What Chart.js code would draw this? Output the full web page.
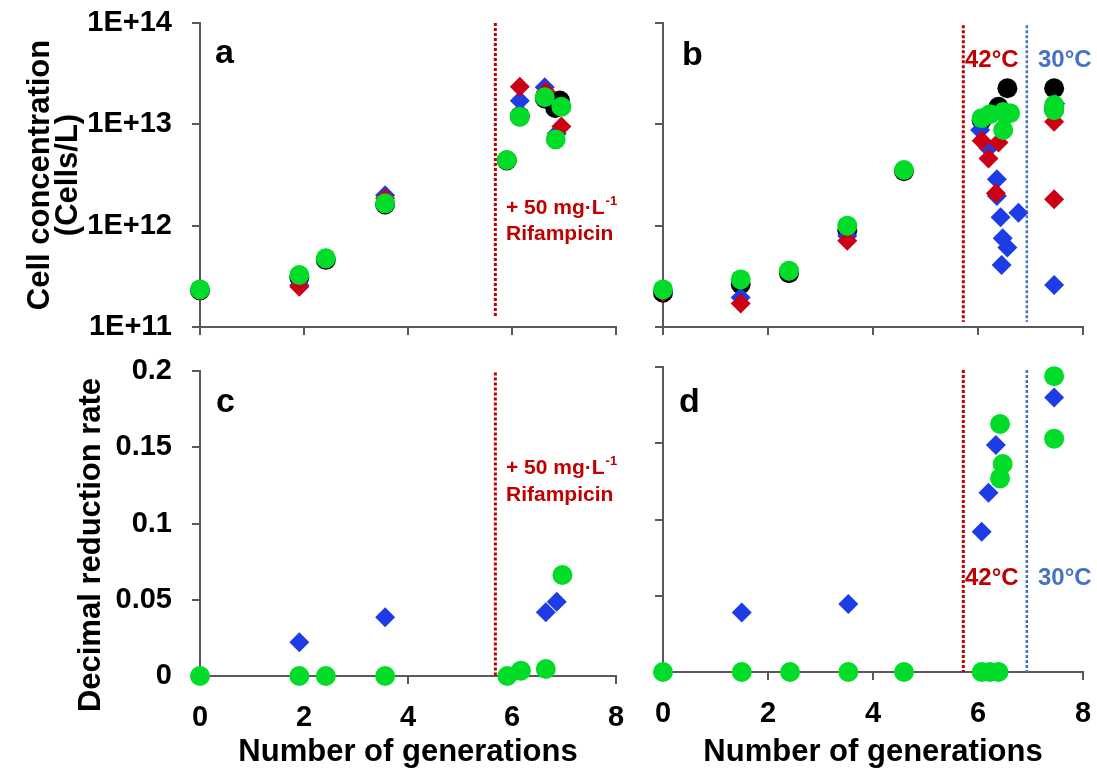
<!DOCTYPE html>
<html><head><meta charset="utf-8">
<script src="https://cdn.jsdelivr.net/npm/chart.js@4.4.1/dist/chart.umd.min.js"></script>
<style>
html,body{margin:0;padding:0;background:#fff;width:1097px;height:771px;overflow:hidden;}
canvas{position:absolute;}
</style></head><body>
<canvas id="pa" width="640" height="360" style="left:0px;top:0px"></canvas>
<canvas id="pb" width="457" height="360" style="left:640px;top:0px"></canvas>
<canvas id="pc" width="640" height="431" style="left:0px;top:340px"></canvas>
<canvas id="pd" width="457" height="431" style="left:640px;top:340px"></canvas>
<script>
// ---------- tick definitions ----------
const genTicks = [0, 2, 4, 6, 8];
const genTickLabels = ['0', '2', '4', '6', '8'];
const concTicks = [1e11, 1e12, 1e13, 1e14];
const concTickLabels = ['1E+11', '1E+12', '1E+13', '1E+14'];
const rateTicks = [0, 0.05, 0.1, 0.15, 0.2];
const rateTickLabels = ['0', '0.05', '0.1', '0.15', '0.2'];

// ---------- event markers (generations) ----------
const rifampicinGen = 5.68;
const heatStartGen = 5.72;
const coolStartGen = 6.93;

// ---------- panel a : cell concentration, rifampicin ----------
const genA_black  = [0, 1.91, 2.42, 3.56, 5.90, 6.15, 6.63, 6.83, 6.92];
const cellA_black = [2.3e11, 3.1e11, 4.6e11, 1.62e12, 4.4e12, 1.2e13, 1.8e13, 1.45e13, 1.72e13];
const genA_blue   = [0, 1.91, 2.42, 3.56, 5.90, 6.15, 6.63, 6.86];
const cellA_blue  = [2.3e11, 2.6e11, 4.7e11, 2.0e12, 4.4e12, 1.71e13, 2.32e13, 8.1e12];
const genA_red    = [0, 1.91, 2.42, 3.56, 5.90, 6.15, 6.65, 6.95];
const cellA_red   = [2.3e11, 2.5e11, 4.7e11, 1.86e12, 4.4e12, 2.35e13, 2.1e13, 9.5e12];
const genA_green  = [0, 1.91, 2.42, 3.56, 5.90, 6.15, 6.63, 6.84, 6.95];
const cellA_green = [2.35e11, 3.26e11, 4.76e11, 1.66e12, 4.45e12, 1.19e13, 1.85e13, 7.1e12, 1.49e13];

// ---------- panel b : cell concentration, 42°C / 30°C ----------
const genB_black  = [0, 1.48, 2.40, 3.51, 4.59, 6.07, 6.39, 6.56, 7.45, 7.45];
const cellB_black = [2.18e11, 2.65e11, 3.39e11, 9.0e11, 3.45e12, 1.1e13, 1.49e13, 2.27e13, 2.27e13, 1.4e13];
const genB_blue   = [0, 1.48, 2.40, 3.51, 4.59, 6.04, 6.20, 6.36, 6.36, 6.43, 6.47, 6.56, 6.45, 6.77, 7.45, 7.47];
const cellB_blue  = [2.3e11, 1.96e11, 3.5e11, 7.9e11, 3.5e12, 8.8e12, 5.8e12, 2.87e12, 1.96e12, 1.21e12, 7.5e11, 6.1e11, 4.1e11, 1.34e12, 2.6e11, 1.6e13];
const genB_red    = [0, 1.48, 2.40, 3.51, 4.59, 6.07, 6.39, 6.20, 6.34, 7.45, 7.45];
const cellB_red   = [2.2e11, 1.71e11, 3.5e11, 7.1e11, 3.5e12, 6.9e12, 6.6e12, 4.6e12, 2.09e12, 1.06e13, 1.82e12];
const genB_green  = [0, 1.48, 2.40, 3.51, 4.59, 6.07, 6.23, 6.48, 6.61, 6.48, 7.45, 7.45];
const cellB_green = [2.35e11, 2.95e11, 3.6e11, 1.0e12, 3.54e12, 1.15e13, 1.26e13, 1.32e13, 1.29e13, 8.8e12, 1.55e13, 1.38e13];

// ---------- panel c : decimal reduction rate, rifampicin ----------
const genC_blue   = [1.91, 3.56, 6.65, 6.86];
const rateC_blue  = [0.0221, 0.0385, 0.0418, 0.0487];
const genC_green  = [0, 1.91, 2.42, 3.56, 5.91, 6.17, 6.65, 6.97];
const rateC_green = [0, 0, 0, 0, 0, 0.0035, 0.0046, 0.0662];

// ---------- panel d : decimal reduction rate, 42°C / 30°C ----------
const genD_blue   = [1.50, 3.53, 6.07, 6.20, 6.34, 7.45];
const rateD_blue  = [0.039, 0.0446, 0.092, 0.1176, 0.1489, 0.180];
const genD_green  = [0, 1.50, 2.42, 3.53, 4.59, 6.07, 6.23, 6.39, 6.42, 6.47, 6.42, 7.45, 7.45];
const rateD_green = [0, 0, 0, 0, 0, 0, 0, 0, 0.1626, 0.1364, 0.127, 0.194, 0.153];

// ---------- styling ----------
const FONT = '"Liberation Sans", Arial, sans-serif';
const AXIS = '#595959';
const C_BLACK = '#000000', C_BLUE = '#1E3CE6', C_RED = '#CC0014', C_GREEN = '#00DC28';
const C_LINE_RED = '#C00000', C_LINE_BLUE = '#4472C4';

function pts(xs, ys) { return xs.map((x, i) => ({x: x, y: ys[i]})); }

function series(xs, ys, color, style, order) {
  return { data: pts(xs, ys), backgroundColor: color, borderColor: color, borderWidth: 0,
           pointStyle: style, pointRadius: 10, pointHoverRadius: 10, showLine: false,
           order: order, clip: false };
}
function vline(x, y0, y1, color, width) {
  return { data: [{x: x, y: y0}, {x: x, y: y1}], showLine: true, borderColor: color,
           borderWidth: width, borderDash: [3, 2], pointRadius: 0, order: 10, clip: false,
           backgroundColor: color };
}

function textPlugin(items) {
  return {
    id: 'panelText',
    afterDatasetsDraw(chart) {
      const {ctx, chartArea} = chart;
      items.forEach(it => {
        ctx.save();
        ctx.font = it.font;
        ctx.fillStyle = it.color || '#000';
        ctx.textAlign = it.align || 'left';
        ctx.textBaseline = it.baseline || 'alphabetic';
        ctx.translate(chartArea.left + it.dx, chartArea.top + it.dy);
        if (it.rotate) ctx.rotate(it.rotate);
        ctx.fillText(it.text, 0, 0);
        if (it.sup) {
          const w = ctx.measureText(it.text).width;
          ctx.font = it.supFont;
          ctx.fillText(it.sup, w + 1, -9);
        }
        ctx.restore();
      });
    }
  };
}

function makeChart(id, cfg) {
  const gridOpts = { drawOnChartArea: false, drawTicks: true, tickLength: 8, tickWidth: 2, tickColor: AXIS, color: AXIS, lineWidth: 2 };
  const tickFont = { family: FONT, size: 29, weight: 'bold' };
  const isLog = cfg.yType === 'logarithmic';
  const yTickVals = isLog ? concTicks : rateTicks;
  const yTickLabs = isLog ? concTickLabels : rateTickLabels;
  return new Chart(document.getElementById(id), {
    type: 'scatter',
    data: { datasets: cfg.datasets },
    plugins: [textPlugin(cfg.texts)],
    options: {
      responsive: false, animation: false, events: [],
      layout: { padding: { top: cfg.padTop, right: cfg.padRight, left: 0, bottom: 0 } },
      plugins: { legend: { display: false }, tooltip: { enabled: false } },
      scales: {
        x: {
          type: 'linear', min: 0, max: 8,
          afterBuildTicks: s => { s.ticks = genTicks.map(v => ({value: v})); },
          afterFit: s => { s.height = cfg.xHeight; s.paddingLeft = 0; s.paddingRight = 0; },
          ticks: { display: cfg.showXLabels, font: tickFont, color: '#000', padding: 17, maxRotation: 0, autoSkip: false,
                   callback: v => genTickLabels[genTicks.indexOf(v)] },
          grid: gridOpts,
          border: { display: true, color: AXIS, width: 2 },
          title: cfg.xTitle ? { display: true, text: cfg.xTitle, color: '#000',
                   font: { family: FONT, size: 31, weight: 'bold' }, padding: { top: 0, bottom: 0 } } : { display: false }
        },
        y: {
          type: cfg.yType, min: cfg.yMin, max: cfg.yMax,
          afterBuildTicks: s => { s.ticks = yTickVals.map(v => ({value: v})); },
          afterFit: s => { s.width = cfg.yWidth; s.paddingTop = 0; s.paddingBottom = 0; },
          ticks: { display: cfg.showYLabels, font: tickFont, color: '#000', padding: 20, autoSkip: false,
                   callback: v => { const i = yTickVals.findIndex(t => Math.abs(t - v) < 1e-9 * Math.max(1, t)); return i >= 0 ? yTickLabs[i] : ''; } },
          grid: gridOpts,
          border: { display: true, color: AXIS, width: 2 },
          title: cfg.yTitle ? { display: true, text: cfg.yTitle, color: '#000',
                   font: { family: FONT, size: 31, weight: 'bold', lineHeight: '28px' }, padding: { top: 26, bottom: 0 } } : { display: false }
        }
      }
    }
  });
}

const letterFont = 'bold 34px ' + FONT;
const rifFont = 'bold 21px ' + FONT;
const rifSup = 'bold 13px ' + FONT;
const tempFont = 'bold 24px ' + FONT;

// panel a
makeChart('pa', {
  yType: 'logarithmic', yMin: 1e11, yMax: 1e14, showYLabels: true, showXLabels: false,
  yTitle: ['Cell concentration', '(Cells/L)'], xTitle: null,
  yWidth: 200, xHeight: 33, padTop: 23, padRight: 24,
  datasets: [
    series(genA_green, cellA_green, C_GREEN, 'circle', 0),
    series(genA_red, cellA_red, C_RED, 'rectRot', 1),
    series(genA_blue, cellA_blue, C_BLUE, 'rectRot', 2),
    series(genA_black, cellA_black, C_BLACK, 'circle', 3),
    vline(rifampicinGen, 1.0e14, 1.23e11, C_LINE_RED, 3)
  ],
  texts: [
    {text: 'a', dx: 15, dy: 40, font: letterFont},
    {text: '+ 50 mg\u00B7L', sup: '-1', dx: 306, dy: 191, font: rifFont, supFont: rifSup, color: C_LINE_RED},
    {text: 'Rifampicin', dx: 306, dy: 217, font: rifFont, color: C_LINE_RED}
  ]
});

// panel b
makeChart('pb', {
  yType: 'logarithmic', yMin: 1e11, yMax: 1e14, showYLabels: false, showXLabels: false,
  yTitle: null, xTitle: null,
  yWidth: 23, xHeight: 33, padTop: 23, padRight: 14,
  datasets: [
    series(genB_green, cellB_green, C_GREEN, 'circle', 0),
    series(genB_red, cellB_red, C_RED, 'rectRot', 1),
    series(genB_blue, cellB_blue, C_BLUE, 'rectRot', 2),
    series(genB_black, cellB_black, C_BLACK, 'circle', 3),
    vline(heatStartGen, 9.5e13, 1.12e11, C_LINE_RED, 3),
    vline(coolStartGen, 9.5e13, 1.12e11, C_LINE_BLUE, 2.5)
  ],
  texts: [
    {text: 'b', dx: 19, dy: 42, font: letterFont},
    {text: '42°C', dx: 302, dy: 44, font: tempFont, color: C_LINE_RED},
    {text: '30°C', dx: 375, dy: 44, font: tempFont, color: C_LINE_BLUE}
  ]
});

// panel c
makeChart('pc', {
  yType: 'linear', yMin: 0, yMax: 0.2, showYLabels: true, showXLabels: true,
  yTitle: null, xTitle: 'Number of generations',
  yWidth: 200, xHeight: 95, padTop: 31, padRight: 24,
  datasets: [
    series(genC_green, rateC_green, C_GREEN, 'circle', 0),
    series(genC_blue, rateC_blue, C_BLUE, 'rectRot', 2),
    vline(rifampicinGen, 0.199, 0, C_LINE_RED, 3)
  ],
  texts: [
    {text: 'c', dx: 16, dy: 41, font: letterFont},
    {text: '+ 50 mg\u00B7L', sup: '-1', dx: 306, dy: 103, font: rifFont, supFont: rifSup, color: C_LINE_RED},
    {text: 'Rifampicin', dx: 306, dy: 130, font: rifFont, color: C_LINE_RED},
    {text: 'Decimal reduction rate', dx: -109, dy: 174, rotate: -Math.PI / 2, align: 'center', baseline: 'middle',
     font: 'bold 31px ' + FONT}
  ]
});

// panel d
makeChart('pd', {
  yType: 'linear', yMin: 0, yMax: 0.2, showYLabels: false, showXLabels: true,
  yTitle: null, xTitle: 'Number of generations',
  yWidth: 23, xHeight: 99, padTop: 27, padRight: 14,
  datasets: [
    series(genD_green, rateD_green, C_GREEN, 'circle', 0),
    series(genD_blue, rateD_blue, C_BLUE, 'rectRot', 2),
    vline(heatStartGen, 0.198, 0, C_LINE_RED, 3),
    vline(coolStartGen, 0.198, 0, C_LINE_BLUE, 2.5)
  ],
  texts: [
    {text: 'd', dx: 16, dy: 45, font: letterFont},
    {text: '42°C', dx: 302, dy: 218, font: tempFont, color: C_LINE_RED},
    {text: '30°C', dx: 375, dy: 218, font: tempFont, color: C_LINE_BLUE}
  ]
});
</script>
</body></html>
